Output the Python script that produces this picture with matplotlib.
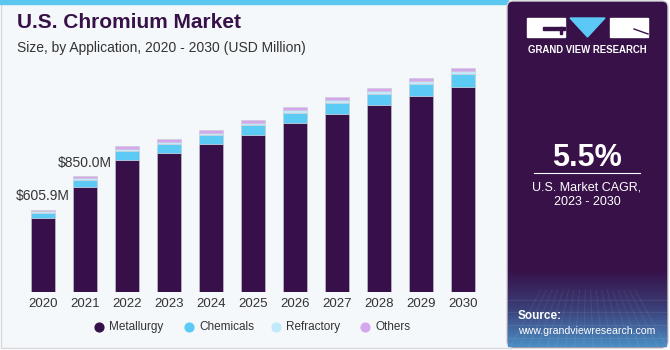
import numpy as np
import matplotlib
matplotlib.use("Agg")
import matplotlib.pyplot as plt
from matplotlib.patches import Rectangle, Polygon, FancyBboxPatch

plt.rcParams['font.family'] = ['Liberation Sans', 'DejaVu Sans']

# data (USD Million)
years = ['2020', '2021', '2022', '2023', '2024', '2025', '2026', '2027', '2028', '2029', '2030']
metallurgy = [547, 768, 970, 1024, 1088, 1154, 1242, 1311, 1374, 1441, 1507]
chemicals = [37, 52, 66, 64, 66, 70, 74, 79, 81, 88, 96]
refractory = [9.5, 15, 18, 16, 17, 18, 22, 22, 22, 22, 22]
others = [12.4, 15, 19, 18, 20, 22, 22, 20, 22, 24, 22]
series_names = ['Metallurgy', 'Chemicals', 'Refractory', 'Others']
colors = ['#37104a', '#5bcbf5', '#c2e9fb', '#d4a6ee']
labels = {0: '$605.9M', 1: '$850.0M'}

fig = plt.figure(figsize=(6.7, 3.5), dpi=100)

# background canvas in pixel coords
bg = fig.add_axes([0, 0, 1, 1])
bg.set_xlim(0, 670)
bg.set_ylim(350, 0)
bg.axis('off')
bg.add_patch(Rectangle((0, 0), 670, 350, color='white'))
bg.add_patch(Rectangle((1, 2), 510, 346, facecolor='#f4f8fb', edgecolor='#d5d8dc', lw=1))
bg.add_patch(Rectangle((0, 0), 508, 4, color='#5bc6f0'))
bg.add_patch(FancyBboxPatch((507, 1), 161, 347, boxstyle='round,pad=0,rounding_size=6',
                            facecolor='#381149', edgecolor='#cfd2d6', lw=1))
# gradient at bottom of side panel
grad = np.linspace(0, 1, 100)[:, None]
cmap = matplotlib.colors.LinearSegmentedColormap.from_list('g', ['#381149', '#3b3f78', '#4a8ec4'])
bg.imshow(grad, extent=(508, 667, 347, 270), cmap=cmap, aspect='auto', zorder=1)
for gx in np.linspace(510, 667, 18):
    bg.plot([587 + (gx - 587) * 0.6, gx], [290, 347], color='white', alpha=0.08, lw=0.6, zorder=2)
for gy in [300, 312, 325, 338]:
    bg.plot([508, 667], [gy, gy], color='white', alpha=0.08, lw=0.6, zorder=2)

# logo
bg.add_patch(Rectangle((527, 18), 38, 19, color='white', zorder=3))
bg.add_patch(Rectangle((543, 27), 22, 3, color='#381149', zorder=4))
bg.add_patch(Rectangle((560, 27), 2, 7, color='#381149', zorder=4))
bg.add_patch(Polygon([[570, 18], [605, 18], [587.5, 37]], color='#5bc8f5', zorder=3))
bg.add_patch(Rectangle((610, 18), 38, 19, color='white', zorder=3))
bg.plot([634, 648], [29, 34], color='#381149', lw=1, zorder=4)
bg.text(587, 50, 'GRAND VIEW RESEARCH', color='white', fontsize=6.9, fontweight='bold',
        ha='center', va='center', zorder=5)

bg.text(587, 158, '5.5%', color='white', fontsize=22, fontweight='bold', ha='center', va='center')
bg.plot([534, 640], [173, 173], color='white', lw=0.8)
bg.text(587, 187, 'U.S. Market CAGR,', color='white', fontsize=9, ha='center', va='center')
bg.text(587, 202, '2023 - 2030', color='white', fontsize=9, ha='center', va='center')
bg.text(518, 316, 'Source:', color='white', fontsize=8.5, fontweight='bold', va='center', zorder=5)
bg.text(518, 331, 'www.grandviewresearch.com', color='white', fontsize=7.6, va='center', zorder=5)

# titles
bg.text(17, 23, 'U.S. Chromium Market', color='#381149', fontsize=15, fontweight='bold', va='center')
bg.text(17, 48, 'Size, by Application, 2020 - 2030 (USD Million)', color='#333333',
        fontsize=10, va='center')

# chart
ax = fig.add_axes([22 / 670, 58 / 350, 462 / 670, 245 / 350])
ax.set_facecolor('none')
x = np.arange(len(years))
bottom = np.zeros(len(years))
for vals, name, c in zip([metallurgy, chemicals, refractory, others], series_names, colors):
    ax.bar(x, vals, 0.57, bottom=bottom, color=c, label=name, edgecolor='#c9c9d2', linewidth=0.4)
    bottom += np.array(vals)
for i, txt in labels.items():
    ax.text(i, bottom[i] + 100, txt, ha='center', va='center', fontsize=10, color='#333333')
ax.set_xlim(-0.5, 10.5)
ax.set_ylim(0, 1800)
ax.set_xticks(x)
ax.set_xticklabels(years, fontsize=9.5, color='#333333')
ax.tick_params(axis='x', length=0, pad=4)
ax.set_yticks([])
for s in ax.spines.values():
    s.set_visible(False)

# legend
lx = [99, 189, 276, 365]
for px, name, c in zip(lx, series_names, colors):
    bg.scatter([px], [327], s=40, color=c, zorder=5)
    bg.text(px + 10, 327, name, fontsize=8.5, color='#333333', va='center')

fig.savefig('out.png', dpi=100)
